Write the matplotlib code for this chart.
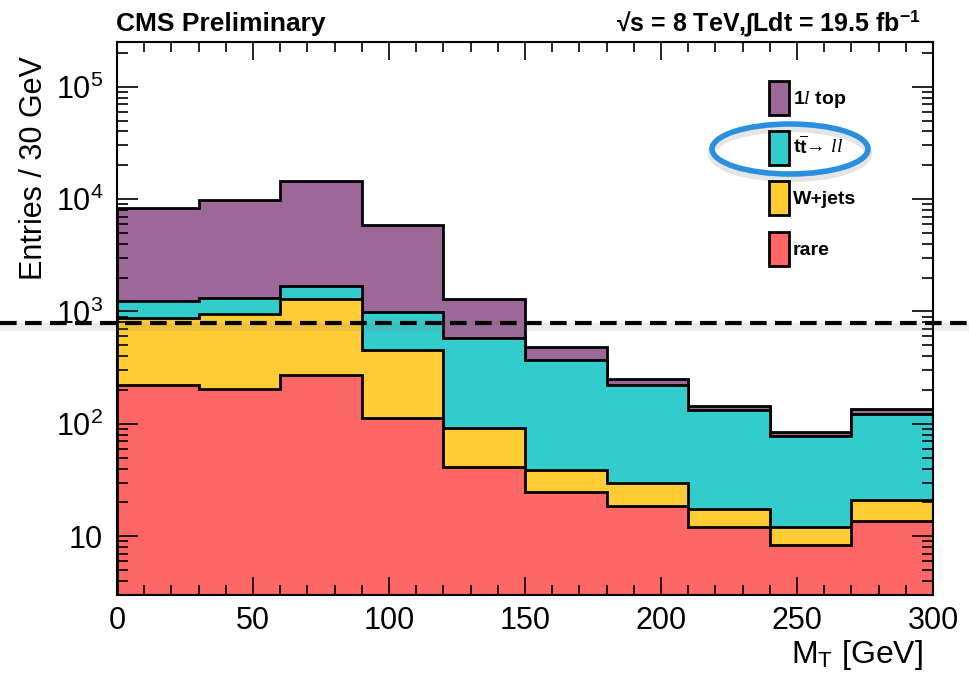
import numpy as np
import matplotlib.pyplot as plt
from matplotlib.patches import Patch, Ellipse
from matplotlib.lines import Line2D
from matplotlib.ticker import LogLocator, FuncFormatter, MultipleLocator

plt.rcParams['font.family'] = ['Liberation Sans', 'DejaVu Sans']
plt.rcParams['mathtext.fontset'] = 'custom'
plt.rcParams['mathtext.rm'] = 'Liberation Sans'
plt.rcParams['mathtext.bf'] = 'Liberation Sans:bold'
plt.rcParams['mathtext.it'] = 'Liberation Serif:italic'

# Datos: bins de M_T y contenidos acumulados
edges = np.arange(0, 301, 30)
rare = np.array([221, 205, 270, 113, 41, 25, 18.5, 12, 8.3, 13.6])
wjets_cum = np.array([870, 940, 1300, 450, 92, 39, 30, 17.3, 12, 21])
ttll_cum = np.array([1250, 1330, 1700, 980, 580, 370, 220, 133, 78, 123])
total_cum = np.array([8300, 9800, 14400, 5900, 1280, 480, 250, 145, 85, 135])

labels = [r'1$\it{l}$ top',
          r'$\mathbf{t}\overline{\mathbf{t}}$' + '\u2192 ' + r'$\it{ll}$',
          'W+jets', 'rare']
colors = ['#9b6898', '#33cccc', '#ffcc33', '#ff6666']
stack = [total_cum, ttll_cum, wjets_cum, rare]

W, H = 969, 677
fig = plt.figure(figsize=(W / 100, H / 100), dpi=100)
ax = fig.add_axes([117 / W, 1 - 595 / H, 816 / W, 553 / H])

ymin, ymax = 3.0, 2.5e5
for vals, c in zip(stack, colors):
    ax.stairs(vals, edges, baseline=ymin, fill=True, facecolor=c,
              edgecolor='black', linewidth=2)

ax.set_yscale('log')
ax.set_xlim(0, 300)
ax.set_ylim(ymin, ymax)

ax.xaxis.set_major_locator(MultipleLocator(50))
ax.xaxis.set_minor_locator(MultipleLocator(10))
ax.yaxis.set_major_locator(LogLocator(base=10, numticks=10))
ax.yaxis.set_minor_locator(LogLocator(base=10, subs=np.arange(2, 10), numticks=20))


def fmt(v, pos):
    e = int(round(np.log10(v)))
    if e == 1:
        return '10'
    return r'$\mathregular{10^{%d}}$' % e


ax.yaxis.set_major_formatter(FuncFormatter(fmt))
ax.tick_params(which='both', direction='in', top=True, right=True, width=1.2)
ax.tick_params(axis='x', which='major', length=13, labelsize=22, pad=8)
ax.tick_params(axis='x', which='minor', length=7)
ax.tick_params(axis='y', which='major', length=15, labelsize=22, pad=10)
ax.tick_params(axis='y', which='minor', length=8)
for s in ax.spines.values():
    s.set_linewidth(1.5)

ax.set_xlabel(r'M$_{\mathrm{T}}$ [GeV]', fontsize=23, loc='right')
ax.xaxis.set_label_coords(0.988, -0.078)
ax.set_ylabel('Entries / 30 GeV', fontsize=22, loc='top')
ax.yaxis.set_label_coords(-0.083, 0.975)

fig.text(116 / W, 1 - 31 / H, 'CMS Preliminary', fontsize=19, fontweight='bold',
         ha='left', va='baseline')
fig.text(921 / W, 1 - 31 / H,
         '\u221as = 8 TeV,\u222bLdt = 19.5 fb' + r'$^{\mathbf{-1}}$',
         fontsize=18, fontweight='bold', ha='right', va='baseline')

handles = [Patch(facecolor=c, edgecolor='black', linewidth=2) for c in colors]
leg = fig.legend(handles, labels, loc='upper left', frameon=False,
                 bbox_to_anchor=(759 / W, 1 - 71 / H), borderpad=0,
                 handlelength=1.05, handleheight=2.3, handletextpad=0.2,
                 labelspacing=0.85, prop={'weight': 'bold', 'size': 14})

# anotaciones: linea discontinua y elipse
y_line = 1 - 323 / H
fig.add_artist(Line2D([0, 1], [y_line - 4 / H, y_line - 4 / H], transform=fig.transFigure,
                      color='grey', alpha=0.15, linewidth=6))
fig.add_artist(Line2D([0, 1], [y_line, y_line], transform=fig.transFigure,
                      color='black', linewidth=3, dashes=(4, 2)))
cx, cy = 790 / W, 1 - 149 / H
fig.add_artist(Ellipse((cx, cy - 4 / H), 156 / W, 50 / H, transform=fig.transFigure,
                       fill=False, edgecolor='grey', alpha=0.2, linewidth=6))
fig.add_artist(Ellipse((cx, cy), 156 / W, 50 / H, transform=fig.transFigure,
                       fill=False, edgecolor='#2b8fe0', linewidth=4))

fig.savefig('out.png', dpi=100)
